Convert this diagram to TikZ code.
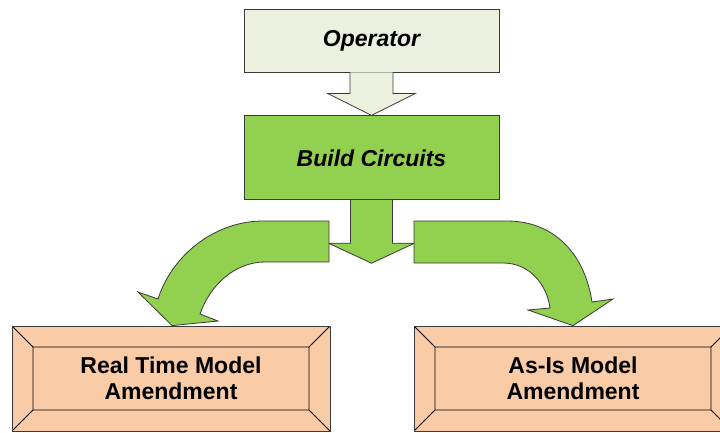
\documentclass[tikz,border=0pt]{standalone}
\usepackage{fontspec}
\setmainfont{Liberation Sans}
\usetikzlibrary{positioning,calc}

\definecolor{paleop}{HTML}{EBF1DE}
\definecolor{leafgreen}{HTML}{92D050}
\definecolor{peach}{HTML}{F9CBA7}
\definecolor{edgegray}{HTML}{3A3A3A}

\begin{document}
\begin{tikzpicture}[
  x=1pt, y=-1pt,
  node distance=43pt,
  every node/.style={font=\fontsize{23}{25.5}\selectfont\bfseries},
  topbox/.style={draw=edgegray, line width=0.8pt, minimum width=255pt, align=center,
    font=\fontsize{23}{25.5}\selectfont\bfseries\itshape},
  bevelbox/.style={draw=edgegray, line width=0.8pt, fill=peach, minimum width=318pt,
    minimum height=105pt, align=center,
    path picture={
      \draw[black, line width=0.8pt]
        (path picture bounding box.north west) -- ++(21pt,-21pt) coordinate (bnw)
        (path picture bounding box.south east) -- ++(-21pt,21pt) coordinate (bse)
        (path picture bounding box.north east) -- ++(-21pt,-21pt)
        (path picture bounding box.south west) -- ++(21pt,21pt)
        (bnw) rectangle (bse);
    }},
  blockarrow/.style={draw=edgegray, line width=0.8pt, line join=miter}
]
\useasboundingbox (0,0) rectangle (720,432);

% Boxes
\node[topbox, fill=paleop, minimum height=63pt] (op) at (371.5,40.5) {Operator};
\node[topbox, fill=leafgreen, minimum height=84pt, below=of op] (build) {Build Circuits};
\node[bevelbox] (realtime) at (171,378.5) {Real Time Model\\Amendment};
\node[bevelbox] (asis) at (573,378.5) {As-Is Model\\Amendment};

% Straight block arrows
\draw[blockarrow, fill=paleop, shift={(op.south)}]
  (-21.5,0) -- (-21.5,21) -- (-44,21) -- (0,43) -- (44,21) -- (21.5,21) -- (21.5,0);
\draw[blockarrow, fill=leafgreen, shift={(build.south)}]
  (-21,0) -- (-21,43) -- (-43,43) -- (0,63) -- (43,43) -- (21,43) -- (21,0);

% Curved block arrows
\draw[blockarrow, fill=leafgreen]
  (329,221) -- (263,221) .. controls (215,221) and (172,255) .. (158,299)
  -- (138,292) -- (realtime.north -| 172,0) -- (218,321) -- (200,314)
  .. controls (210,285) and (235,262) .. (265,262) -- (329,262) -- cycle;
\draw[blockarrow, fill=leafgreen]
  (414,221) -- (507,221) .. controls (555,221) and (585,255) .. (592,302)
  -- (613,299) -- (asis.north) -- (528,310) -- (550,308)
  .. controls (547,285) and (530,263) .. (503,263) -- (414,263) -- cycle;
\end{tikzpicture}
\end{document}
